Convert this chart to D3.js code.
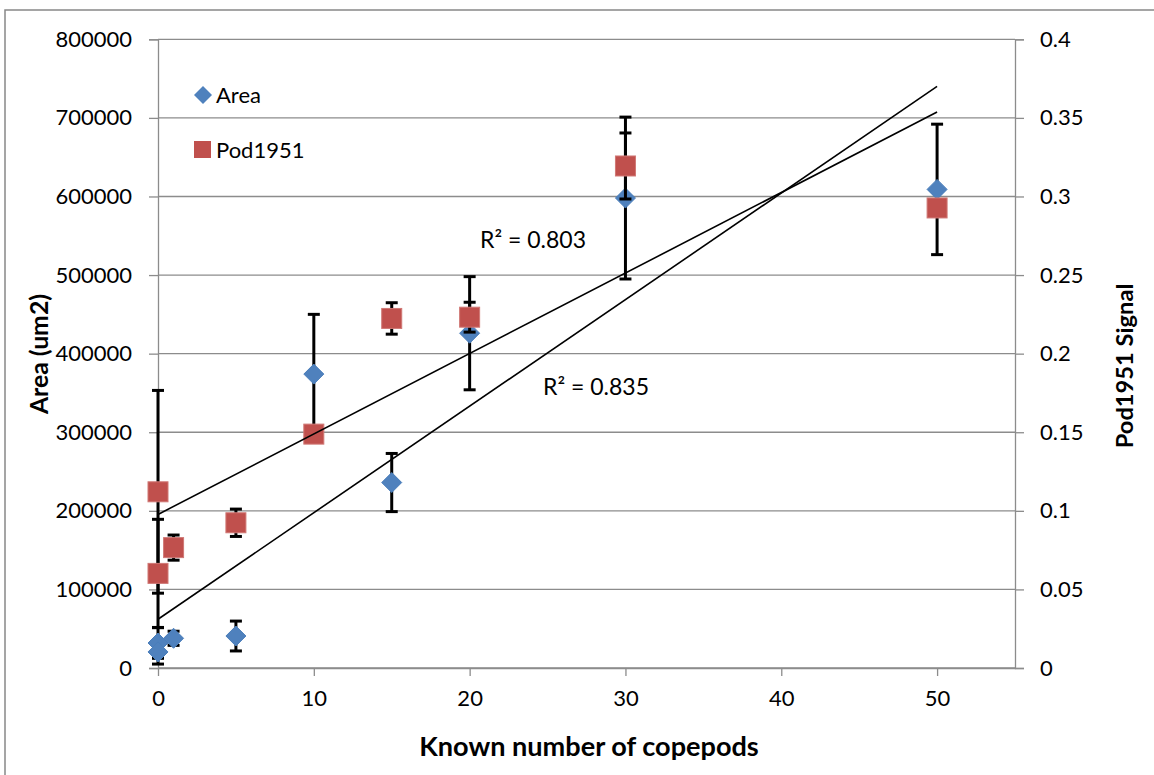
<!DOCTYPE html>
<html>
<head>
<meta charset="utf-8">
<script src="https://cdn.jsdelivr.net/npm/d3@7"></script>
<style>
  body { margin: 0; background: #fff; }
  svg text { font-family: Lato, "Open Sans", sans-serif; fill: #000; }
</style>
</head>
<body>
<div id="chart"></div>
<script>
// copepod counts
let areaX = [0, 0, 1, 5, 10, 15, 20, 30, 50];
let areaY = [31800, 20400, 37800, 40700, 374000, 236000, 426000, 598000, 609000];
let areaErr = [19500, 15400, 9000, 19000, 76000, 37000, 72000, 103000, 83000];

let podX = [0, 0, 1, 5, 10, 15, 20, 30, 50];
let podY = [0.1121, 0.0602, 0.0766, 0.0924, 0.1488, 0.2224, 0.2232, 0.3194, 0.2927];
let podErr = [0.0645, 0.0344, 0.008, 0.0087, 0, 0.01, 0.0095, 0.021, 0];

// linear trendlines (Excel)
let trendIntercept = [62000, 0.0977];   // area, pod
let trendSlope = [13560, 0.00512];
let trendR2 = ["0.835", "0.803"];

let xTicks = [0, 10, 20, 30, 40, 50];
let leftTicks = [0, 100000, 200000, 300000, 400000, 500000, 600000, 700000, 800000];
let rightTicks = [0, 0.05, 0.1, 0.15, 0.2, 0.25, 0.3, 0.35, 0.4];

let width = 1154,
    height = 775;
let pLeft = 158, pRight = 1015, pTop = 39.3, pBottom = 668;

let svg = d3.select("div#chart").append("svg")
  .attr("width", width)
  .attr("height", height);

// chart border
svg.append("rect")
  .attr("x", 5).attr("y", 10)
  .attr("width", 1170).attr("height", 790)
  .attr("fill", "none")
  .attr("stroke", "#888")
  .attr("stroke-width", 1.5);

let x = d3.scaleLinear().domain([0, 55]).range([pLeft, pRight]);
let yL = d3.scaleLinear().domain([0, 800000]).range([pBottom, pTop]);
let yR = d3.scaleLinear().domain([0, 0.4]).range([pBottom, pTop]);

let gray = "#8c8c8c";

// gridlines
svg.append("g").selectAll("line")
  .data(leftTicks)
  .enter().append("line")
  .attr("x1", pLeft).attr("x2", pRight)
  .attr("y1", d => yL(d)).attr("y2", d => yL(d))
  .attr("stroke", gray)
  .attr("stroke-width", 1.3);

// axes
function styleAxis(g) {
  g.select(".domain").attr("stroke", gray).attr("stroke-width", 1.3);
  g.selectAll(".tick line").attr("stroke", gray).attr("stroke-width", 1.3);
  g.selectAll(".tick text").style("font-size", "22px").attr("fill", "#000");
}

svg.append("g")
  .attr("transform", "translate(0," + pBottom + ")")
  .call(d3.axisBottom(x).tickValues(xTicks).tickSizeInner(8).tickSizeOuter(0).tickPadding(14).tickFormat(d3.format("d")))
  .call(styleAxis);

svg.append("g")
  .attr("transform", "translate(" + pLeft + ",0)")
  .call(d3.axisLeft(yL).tickValues(leftTicks).tickSize(9).tickPadding(17).tickFormat(d3.format("d")))
  .call(styleAxis);

svg.append("g")
  .attr("transform", "translate(" + pRight + ",0)")
  .call(d3.axisRight(yR).tickValues(rightTicks).tickSize(9).tickPadding(16).tickFormat(d => String(+d.toFixed(2))))
  .call(styleAxis);

// error bars
function errorBars(xs, ys, errs, yScale) {
  let g = svg.append("g");
  let data = xs.map((d, i) => ({x: d, y: ys[i], e: errs[i]})).filter(d => d.e > 0);
  g.selectAll("line.v").data(data).enter().append("line")
    .attr("x1", d => x(d.x)).attr("x2", d => x(d.x))
    .attr("y1", d => yScale(d.y - d.e)).attr("y2", d => yScale(d.y + d.e))
    .attr("stroke", "#000").attr("stroke-width", 3);
  [-1, 1].forEach(s => {
    g.selectAll("line.c" + (s + 1)).data(data).enter().append("line")
      .attr("x1", d => x(d.x) - 6).attr("x2", d => x(d.x) + 6)
      .attr("y1", d => yScale(d.y + s * d.e)).attr("y2", d => yScale(d.y + s * d.e))
      .attr("stroke", "#000").attr("stroke-width", 3);
  });
}

let diamond = "M0,-10L10,0L0,10L-10,0Z";

errorBars(areaX, areaY, areaErr, yL);
svg.append("g").selectAll("path")
  .data(areaX.map((d, i) => [d, areaY[i]]))
  .enter().append("path")
  .attr("d", diamond)
  .attr("transform", d => "translate(" + x(d[0]) + "," + yL(d[1]) + ")")
  .attr("fill", "#4f81bd")
  .attr("stroke", "#4a7ebb")
  .attr("stroke-width", 1);

errorBars(podX, podY, podErr, yR);
svg.append("g").selectAll("rect")
  .data(podX.map((d, i) => [d, podY[i]]))
  .enter().append("rect")
  .attr("x", d => x(d[0]) - 10)
  .attr("y", d => yR(d[1]) - 10)
  .attr("width", 20).attr("height", 20)
  .attr("fill", "#c0504d")
  .attr("stroke", "#d07875")
  .attr("stroke-width", 1);

// trendlines
let trendScale = [yL, yR];
trendIntercept.forEach((b, i) => {
  svg.append("line")
    .attr("x1", x(0)).attr("x2", x(50))
    .attr("y1", trendScale[i](b)).attr("y2", trendScale[i](b + trendSlope[i] * 50))
    .attr("stroke", "#000")
    .attr("stroke-width", 1.6);
});

svg.append("text").attr("x", 480).attr("y", 248).style("font-size", "23px").text("R² = " + trendR2[1]);
svg.append("text").attr("x", 543).attr("y", 395).style("font-size", "23px").text("R² = " + trendR2[0]);

// legend
svg.append("path").attr("d", "M0,-9L9,0L0,9L-9,0Z")
  .attr("transform", "translate(203,95)")
  .attr("fill", "#4f81bd");
svg.append("text").attr("x", 216).attr("y", 103).style("font-size", "22px").text("Area");
svg.append("rect").attr("x", 194).attr("y", 141).attr("width", 17).attr("height", 17)
  .attr("fill", "#c0504d");
svg.append("text").attr("x", 216).attr("y", 158).style("font-size", "22px").text("Pod1951");

// axis titles, sized to the span they take in the picture
function fitTitle(t, w) {
  let base = 20;
  t.style("font-size", base + "px");
  let len = t.node().getComputedTextLength();
  t.style("font-size", (base * w / len).toFixed(1) + "px");
}
let xTitle = svg.append("text")
  .attr("x", 589).attr("y", 756)
  .attr("text-anchor", "middle")
  .style("font-weight", "bold")
  .text("Known number of copepods");
fitTitle(xTitle, 340);
let lTitle = svg.append("text")
  .attr("transform", "translate(48,354) rotate(-90)")
  .attr("text-anchor", "middle")
  .style("font-weight", "bold")
  .text("Area (um2)");
fitTitle(lTitle, 120);
let rTitle = svg.append("text")
  .attr("transform", "translate(1133,366) rotate(-90)")
  .attr("text-anchor", "middle")
  .style("font-weight", "bold")
  .text("Pod1951 Signal");
fitTitle(rTitle, 165);
</script>
</body>
</html>
